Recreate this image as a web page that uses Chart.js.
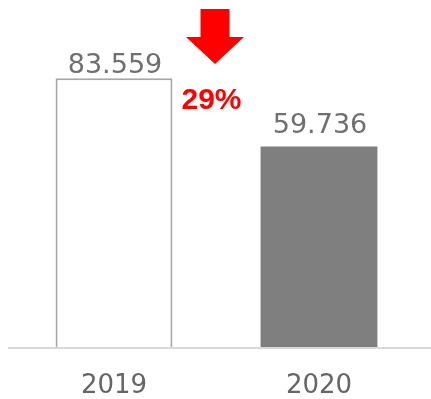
<!DOCTYPE html>
<html>
<head>
<meta charset="utf-8">
<script src="https://cdn.jsdelivr.net/npm/chart.js@4.4.1/dist/chart.umd.min.js"></script>
<style>
html,body{margin:0;padding:0;background:#fff;}
#wrap{width:431px;height:399px;position:relative;}
</style>
</head>
<body>
<div id="wrap"><canvas id="chart"></canvas></div>
<script>
const years = ['2019', '2020'];
const totals = [83559, 59736];

const Y_MIN = -10170, Y_MAX = 110860;

const fmt = n => String(n).replace(/\B(?=(\d{3})+(?!\d))/g, '.');

// value labels, the drop arrow with its percentage, and the base line
const annotate = {
  id: 'annotate',
  afterDatasetsDraw(chart) {
    const { ctx, chartArea } = chart;
    const bars = chart.getDatasetMeta(0).data;
    ctx.save();

    ctx.strokeStyle = '#d9d9d9';
    ctx.lineWidth = 2;
    ctx.beginPath();
    ctx.moveTo(8, chartArea.bottom + 1);
    ctx.lineTo(chart.width, chartArea.bottom + 1);
    ctx.stroke();

    ctx.font = '27px "DejaVu Sans"';
    ctx.fillStyle = '#707070';
    ctx.textAlign = 'center';
    ctx.textBaseline = 'alphabetic';
    const lift = [5, 14];
    bars.forEach((b, i) => ctx.fillText(fmt(totals[i]), b.x + 1, b.y - lift[i]));

    const mx = (bars[0].x + bars[1].x) / 2 - 1.5;
    ctx.fillStyle = '#ff0000';
    ctx.beginPath();
    ctx.moveTo(mx - 14.5, 9);
    ctx.lineTo(mx + 14.5, 9);
    ctx.lineTo(mx + 14.5, 37);
    ctx.lineTo(mx + 29, 37);
    ctx.lineTo(mx, 64);
    ctx.lineTo(mx - 29, 37);
    ctx.lineTo(mx - 14.5, 37);
    ctx.closePath();
    ctx.fill();

    const pct = Math.round((1 - totals[1] / totals[0]) * 100) + '%';
    ctx.font = 'bold 30px "Liberation Sans"';
    ctx.fillText(pct, mx - 3.5, 109);
    ctx.restore();
  }
};

new Chart(document.getElementById('chart'), {
  type: 'bar',
  data: {
    labels: years,
    datasets: [{
      data: totals,
      base: Y_MIN,
      backgroundColor: ['#ffffff', '#7f7f7f'],
      borderColor: ['#a6a6a6', '#7f7f7f'],
      borderWidth: [2, 0],
      categoryPercentage: 1,
      barPercentage: 0.57
    }]
  },
  options: {
    responsive: true,
    maintainAspectRatio: false,
    animation: false,
    layout: { padding: { left: 11.5, right: 9.5, top: 0, bottom: 0 } },
    plugins: { legend: { display: false }, tooltip: { enabled: false } },
    scales: {
      x: {
        grid: { display: false, drawTicks: false },
        border: { display: false },
        ticks: { color: '#666666', padding: 24, font: { family: 'DejaVu Sans', size: 26 } },
        afterFit(scale) { scale.height = 52; }
      },
      y: { display: false, min: Y_MIN, max: Y_MAX }
    }
  },
  plugins: [annotate]
});
</script>
</body>
</html>
